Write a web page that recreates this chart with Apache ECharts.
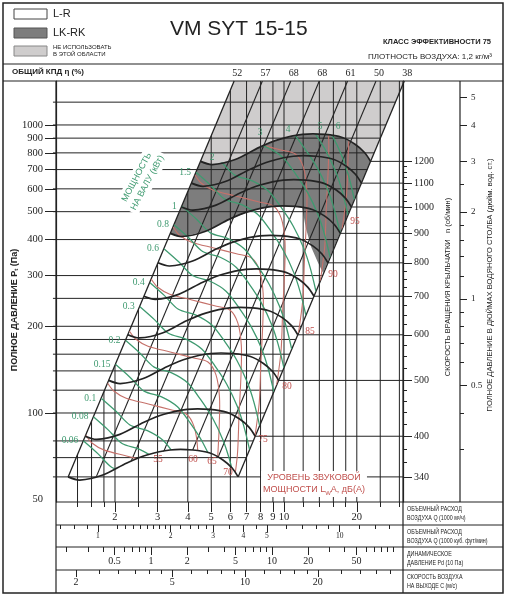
<!DOCTYPE html>
<html>
<head>
<meta charset="utf-8">
<script src="https://cdn.jsdelivr.net/npm/echarts@6/dist/echarts.min.js"></script>
<style>
html, body { margin: 0; padding: 0; background: #fff; }
#chart { width: 507px; height: 600px; }
</style>
</head>
<body>
<div id="chart"></div>
<script>
// Q in 1000 m3/h, P in Pa

// fan curve read at 340 rpm, other speeds follow the fan laws
var fanBaseRpm = 340;
var fanBaseQ = [1.28, 1.43, 1.78, 2.24, 2.71, 3.38, 4.2, 4.94, 5.59, 6.1, 6.46];
var fanBaseP = [60, 58.5, 60.9, 67.1, 71.5, 74.4, 74.4, 72.6, 68.7, 64.4, 60];
var fanRpm = [340, 400, 500, 600, 700, 800, 900, 1000, 1100, 1200];

// shaft power curve read for 0.1 kW
var powerBaseKw = 0.1;
var powerBaseQ = [1.754, 2.014, 2.305, 2.723, 3.168, 3.585, 4.024, 4.442, 4.732, 4.994];
var powerBaseP = [112.6, 101.6, 90.9, 86.8, 80.2, 70.2, 60.4, 50.7, 43.2, 35.9];
var powerKw = [0.06, 0.08, 0.1, 0.15, 0.2, 0.3, 0.4, 0.6, 0.8, 1, 1.5, 2, 3, 4, 5, 6];
var powerTopKw = [2, 3, 4, 5, 6];
var powerTopLabelQ = [5.04, 7.96, 10.39, 14.09, 16.73];
var powerTopLabelP = [774, 938, 961, 984, 984];

// sound power curve read for 75 dB(A)
var soundBaseDb = 75;
var soundDbPerDecade = 55.4;
var soundBaseQ = [3.475, 3.70, 4.149, 5.126, 6.356, 7.345, 7.929, 8.198, 8.174, 8.02, 7.898, 7.573];
var soundBaseP = [442.4, 414, 391.8, 374, 357, 345.2, 311.3, 259.8, 205.8, 148.8, 108.5, 82.5];
var soundDb = [55, 60, 65, 70, 75, 80, 85, 90, 95];
var soundLabelQ = [3.01, 4.2, 5.04, 5.87, 8.19, 10.29, 12.81, 15.95, 19.66];
var soundLabelP = [68.7, 68.7, 68.1, 61.9, 81.2, 123.1, 191.1, 301.5, 460.5];

// system lines with the total efficiency written above them
var effLabels = [52, 57, 68, 68, 61, 50, 38];
var sysPBottom = 45, sysPTop = 1421;
var sysQBottom = [1.107, 1.449, 1.898, 2.489, 3.26, 4.273, 5.594];
var sysQTop = [6.22, 8.14, 10.67, 13.99, 18.32, 24.01, 31.44];

// LK-RK zone: between 900 and 1200 rpm, closed on the right by this edge
var darkLowRpm = 900;
var darkInnerQ = [14.5, 13.8, 12.95, 12.3, 11.9];
var darkInnerP = [306, 334, 377, 440, 515];

// grid and scales
var qGrid = [1.4, 1.6, 1.8, 2, 2.5, 3, 4, 5, 6, 7, 8, 9, 10, 12, 14, 16, 18, 20, 25, 30];
var pGrid = [60, 70, 80, 100, 120, 140, 160, 180, 200, 250, 300, 400, 500, 600, 700, 800, 900, 1000, 1200];
var pTicks = [100, 200, 300, 400, 500, 600, 700, 800, 900, 1000];
var pLabels = [50, 100, 200, 300, 400, 500, 600, 700, 800, 900, 1000];
var rpmMajor = [340, 400, 500, 600, 700, 800, 900, 1000, 1100, 1200];
var rpmMinor = [360, 380, 420, 440, 460, 480, 525, 550, 575, 625, 650, 675, 725, 750, 775, 825, 850, 875, 925, 950, 975, 1025, 1050, 1075, 1125, 1150, 1175];
var inchMajor = [0.5, 1, 2, 3, 4, 5];
var inchMinor = [0.3, 0.4, 0.6, 0.7, 0.8, 0.9, 1.2, 1.4, 1.6, 1.8, 2.5];
var qMajor = [2, 3, 4, 5, 6, 7, 8, 9, 10, 20];
var qMinor = [1.4, 1.6, 1.8, 2.5, 12, 14, 16, 18, 25, 30];
var cfmMajor = [1, 2, 3, 4, 5, 10];
var cfmMinor = [0.7, 0.8, 0.9, 1.2, 1.3, 1.4, 1.5, 1.6, 1.7, 1.8, 1.9, 2.2, 2.4, 2.6, 2.8, 3.5, 4.5, 6, 7, 8, 9, 12, 14, 16];
var pdMajor = [0.5, 1, 2, 5, 10, 20, 50];
var pdMinor = [0.2, 0.3, 0.4, 0.6, 0.7, 0.8, 0.9, 3, 4, 6, 7, 8, 9, 30, 40, 60, 70, 80, 90, 100];
var velMajor = [2, 5, 10, 20];
var velMinor = [2.5, 3, 3.5, 4, 4.5, 6, 7, 8, 9, 12, 14, 16, 18, 25, 30, 35, 40];

var xMin = 1.1405, xMax = 31.05, yMin = 49.09, yMax = 1421;
var PA_PER_INCH = 249.09;
var CFM_FACTOR = 1.699;
var VELOCITY_PER_Q = 1.449;
var AIR_DENSITY = 1.2;

var SERIF = '"Liberation Serif"';
var SANS = '"Liberation Sans"';
var INK = '#232323';
var GREEN = '#3f9a70';
var RED = '#c5716a';
var RED_TEXT = '#c0504d';

function affine(qs, ps, s) {
    return qs.map(function (q, i) { return [q * s, ps[i] * s * s]; });
}
function pairs(qs, ps) {
    return qs.map(function (q, i) { return [q, ps[i]]; });
}

var fanCurves = fanRpm.map(function (n) { return affine(fanBaseQ, fanBaseP, n / fanBaseRpm); });
var powerCurves = powerKw.map(function (w) { return affine(powerBaseQ, powerBaseP, Math.cbrt(w / powerBaseKw)); });
var soundCurves = soundDb.map(function (db) {
    return affine(soundBaseQ, soundBaseP, Math.pow(10, (db - soundBaseDb) / soundDbPerDecade));
});

var last = sysQTop.length - 1;
var fanLow = fanCurves[0];
var fanHigh = fanCurves[fanCurves.length - 1];
var fanDark = fanCurves[fanRpm.indexOf(darkLowRpm)];
var innerEnd = darkInnerQ[darkInnerQ.length - 1];

var regionFull = fanLow.concat([[sysQTop[last], sysPTop], [sysQTop[0], sysPTop]]);
var regionUse = fanLow.concat(fanHigh.slice().reverse());
var rightOfLeftEdge = [[sysQBottom[0], sysPBottom], [sysQTop[0], sysPTop], [sysQTop[0], 5000], [200, 5000], [200, 10], [sysQBottom[0], 10]];
var leftOfRightEdge = [[0.2, 10], [0.2, 5000], [sysQTop[last], 5000], [sysQTop[last], sysPTop], [sysQBottom[last], sysPBottom], [sysQBottom[last], 10]];
var lightArea = fanHigh.concat([[sysQTop[last], sysPTop], [sysQTop[0], sysPTop]]);
var darkArea = fanHigh.concat(pairs(darkInnerQ, darkInnerP))
    .concat(fanDark.filter(function (p) { return p[0] < innerEnd; }).reverse());

var hLines = pGrid.map(function (p) { return [[1.108, p], [xMax * 2, p]]; });
var vLines = qGrid.map(function (q) { return [[q, yMin], [q, yMax]]; });
var sysInner = [];
for (var i = 1; i < last; i++) {
    sysInner.push([[sysQBottom[i], sysPBottom], [sysQTop[i], sysPTop]]);
}
var sysEdges = [
    [fanLow[0], [sysQTop[0], sysPTop]],
    [fanLow[fanLow.length - 1], [sysQTop[last], sysPTop]]
];
var rpmLines = fanCurves.map(function (c) {
    var e = c[c.length - 1];
    return [e, [xMax, e[1]]];
});

function lineSeries(lines, color, width, smooth, clipPts, z) {
    return {
        type: 'custom', coordinateSystem: 'cartesian2d', clip: false, silent: true, z: z,
        data: lines.map(function (l) { return l[0]; }),
        renderItem: function (params, api) {
            var el = {
                type: 'polyline',
                shape: { points: lines[params.dataIndex].map(function (p) { return api.coord(p); }), smooth: smooth },
                style: { stroke: color, lineWidth: width, fill: null }
            };
            if (clipPts) {
                el.clipPath = { type: 'polygon', shape: { points: clipPts.map(function (p) { return api.coord(p); }) } };
            }
            return el;
        }
    };
}
function areaSeries(poly, color, z) {
    return {
        type: 'custom', coordinateSystem: 'cartesian2d', clip: false, silent: true, z: z,
        data: [poly[0]],
        renderItem: function (params, api) {
            return {
                type: 'polygon',
                shape: { points: poly.map(function (p) { return api.coord(p); }) },
                style: { fill: color, stroke: null }
            };
        }
    };
}
function textSeries(items, color, font, z) {
    return {
        type: 'custom', coordinateSystem: 'cartesian2d', clip: false, silent: true, z: z,
        data: items.map(function (it) { return it.p; }),
        renderItem: function (params, api) {
            var it = items[params.dataIndex];
            var c = api.coord(it.p);
            return {
                type: 'text', x: c[0] + (it.dx || 0), y: c[1] + (it.dy || 0),
                style: { text: it.text, fill: color, font: font, align: it.align || 'center', verticalAlign: 'middle' }
            };
        }
    };
}

var powerLabels = [];
powerKw.forEach(function (w, i) {
    if (powerTopKw.indexOf(w) < 0) {
        powerLabels.push({ p: powerCurves[i][0], text: String(w), dx: -5, align: 'right' });
    }
});
powerTopKw.forEach(function (w, i) {
    powerLabels.push({ p: [powerTopLabelQ[i], powerTopLabelP[i]], text: String(w) });
});
var soundLabels = soundDb.map(function (db, i) {
    return { p: [soundLabelQ[i], soundLabelP[i]], text: String(db) };
});
var effItems = effLabels.map(function (e, i) {
    return { p: [sysQTop[i], sysPTop], text: String(e), dx: 3, dy: -8 };
});

function fmt(v) { return String(v); }
function pdOf(q) { return AIR_DENSITY / 2 * Math.pow(q * VELOCITY_PER_Q, 2) / 10; }

// bottom scales: every row gets two grids on the same rectangle, one for long ticks with labels, one for short ticks
var rows = [
    { top: 502, height: 23, min: xMin, max: xMax, major: qMajor, minor: qMinor, majLen: 10, minLen: 5, margin: 10, font: 10.5 },
    { top: 525, height: 22, min: xMin / CFM_FACTOR, max: xMax / CFM_FACTOR, major: cfmMajor, minor: cfmMinor, majLen: 7, minLen: 4, margin: 7, font: 7.5 },
    { top: 547, height: 23, min: pdOf(xMin), max: pdOf(xMax), major: pdMajor, minor: pdMinor, majLen: 8, minLen: 5, margin: 9, font: 10 },
    { top: 570, height: 23, min: xMin * VELOCITY_PER_Q, max: xMax * VELOCITY_PER_Q, major: velMajor, minor: velMinor, majLen: 7, minLen: 4, margin: 7, font: 10 }
];
var grids = [{ left: 56, right: 104, top: 81, bottom: 98 }];
var xAxes = [{ type: 'log', gridIndex: 0, min: xMin, max: xMax, show: false }];
var rowYAxes = [];
rows.forEach(function (r) {
    [true, false].forEach(function (isMajor) {
        var gi = grids.length;
        grids.push({ left: 56, right: 104, top: r.top, height: r.height });
        rowYAxes.push({ type: 'value', gridIndex: gi, min: 0, max: 1, show: false });
        xAxes.push({
            type: 'log', gridIndex: gi, position: 'top', min: r.min, max: r.max,
            axisLine: { show: false, onZero: false }, splitLine: { show: false }, minorTick: { show: false },
            axisTick: { show: true, inside: true, length: isMajor ? r.majLen : r.minLen,
                customValues: isMajor ? r.major : r.minor, lineStyle: { color: INK } },
            axisLabel: isMajor ? { show: true, inside: true, margin: r.margin, customValues: r.major, formatter: fmt,
                fontFamily: 'Liberation Serif', fontSize: r.font, color: INK } : { show: false }
        });
    });
});

var rpmMin = fanBaseRpm * Math.sqrt(yMin / fanBaseP[fanBaseP.length - 1]);
var rpmMax = fanBaseRpm * Math.sqrt(yMax / fanBaseP[fanBaseP.length - 1]);

function sideAxis(min, max, offset, ticks, len, labels, margin, fontSize, showLine) {
    return {
        type: 'log', gridIndex: 0, position: 'right', offset: offset, min: min, max: max,
        axisLine: { show: showLine, onZero: false, lineStyle: { color: INK, width: 1.2 } },
        splitLine: { show: false }, minorTick: { show: false },
        axisTick: { show: true, length: len, customValues: ticks, lineStyle: { color: INK } },
        axisLabel: labels ? { show: true, margin: margin, customValues: labels, formatter: fmt,
            fontFamily: 'Liberation Serif', fontSize: fontSize, color: INK } : { show: false }
    };
}

// fixed furniture of the sheet
var g = [];
function gLine(x1, y1, x2, y2, w) {
    g.push({ type: 'line', z: 50, silent: true, shape: { x1: x1, y1: y1, x2: x2, y2: y2 }, style: { stroke: INK, lineWidth: w || 1 } });
}
function gText(x, y, text, font, opt) {
    opt = opt || {};
    g.push({
        type: 'text', z: opt.z || 60, silent: true, x: x, y: y, rotation: opt.rot || 0, scaleX: opt.sx || 1,
        style: Object.assign({ text: text, font: font, fill: opt.fill || INK, align: opt.align || 'left', verticalAlign: 'middle' }, opt.style || {})
    });
}
g.push({ type: 'rect', z: 1000, silent: true, shape: { x: 0, y: 594, width: 507, height: 6 }, style: { fill: '#fff' } });
g.push({ type: 'rect', z: 50, silent: true, shape: { x: 3, y: 3, width: 500, height: 590 }, style: { fill: null, stroke: INK, lineWidth: 1.5 } });
gLine(3, 64, 503, 64, 1.2);
gLine(3, 81, 503, 81, 1.2);
gLine(56, 81, 56, 593, 1.2);
gLine(403, 81, 403, 593, 1.2);
gLine(460, 81, 460, 502, 1.2);
gLine(56, 502, 503, 502, 1.2);
gLine(56, 525, 503, 525, 1);
gLine(56, 547, 503, 547, 1);
gLine(56, 570, 503, 570, 1);

g.push({ type: 'rect', z: 50, silent: true, shape: { x: 14, y: 9, width: 33, height: 10 }, style: { fill: '#fff', stroke: '#444', lineWidth: 1 } });
g.push({ type: 'rect', z: 50, silent: true, shape: { x: 14, y: 28, width: 33, height: 10 }, style: { fill: '#7d7d7d', stroke: '#555', lineWidth: 1 } });
g.push({ type: 'rect', z: 50, silent: true, shape: { x: 14, y: 46, width: 33, height: 10 }, style: { fill: '#cfcdcd', stroke: '#888', lineWidth: 1 } });
gText(53, 14, 'L-R', '11px ' + SANS);
gText(53, 33, 'LK-RK', '11px ' + SANS);
gText(53, 47, 'НЕ ИСПОЛЬЗОВАТЬ', '6px ' + SANS);
gText(53, 54, 'В ЭТОЙ ОБЛАСТИ', '6px ' + SANS);
gText(170, 29, 'VM SYT 15-15', '21px ' + SANS);
gText(491, 42, 'КЛАСС ЭФФЕКТИВНОСТИ 75', 'bold 7.5px ' + SANS, { align: 'right' });
gText(492, 57, 'ПЛОТНОСТЬ ВОЗДУХА: 1,2 кг/м³', '8px ' + SANS, { align: 'right' });
gText(12, 72, 'ОБЩИЙ КПД η (%)', 'bold 8px ' + SANS);

gText(15, 310, 'ПОЛНОЕ ДАВЛЕНИЕ P{s|t} (Па)', 'bold 9px ' + SANS,
    { align: 'center', rot: Math.PI / 2, style: { rich: { s: { fontSize: 6, fontWeight: 'bold', verticalAlign: 'bottom' } } } });
gText(448, 287, 'СКОРОСТЬ ВРАЩЕНИЯ КРЫЛЬЧАТКИ   n (об/мин)', '7.5px ' + SANS, { align: 'center', rot: Math.PI / 2 });
gText(490, 285, 'ПОЛНОЕ ДАВЛЕНИЕ В ДЮЙМАХ ВОДЯНОГО СТОЛБА (дюйм. вод. ст.)', '8px ' + SANS, { align: 'center', rot: Math.PI / 2, sx: 0.95 });

var rowTitles = [
    ['ОБЪЕМНЫЙ РАСХОД', 'ВОЗДУХА Q (1000 м³/ч)', 509],
    ['ОБЪЕМНЫЙ РАСХОД', 'ВОЗДУХА Q (1000 куб. фут/мин)', 532],
    ['ДИНАМИЧЕСКОЕ', 'ДАВЛЕНИЕ Pd (10 Па)', 554],
    ['СКОРОСТЬ ВОЗДУХА', 'НА ВЫХОДЕ С (м/с)', 577]
];
rowTitles.forEach(function (r) {
    gText(407, r[2], r[0], '6.5px ' + SANS, { sx: 0.82 });
    gText(407, r[2] + 9, r[1], '6.5px ' + SANS, { sx: 0.82 });
});

gText(142, 180, 'МОЩНОСТЬ\nНА ВАЛУ (кВт)', '9px ' + SANS,
    { align: 'center', rot: 1.08, fill: GREEN, z: 70, style: { backgroundColor: '#fff', padding: [1, 3], lineHeight: 12 } });
gText(314, 484, 'УРОВЕНЬ ЗВУКОВОЙ\nМОЩНОСТИ L{s|W}A, дБ(А)', '9px ' + SANS,
    { align: 'center', fill: RED_TEXT, z: 70, style: { backgroundColor: '#fff', padding: [1, 2], lineHeight: 12,
        rich: { s: { fontSize: 6, fill: RED_TEXT, verticalAlign: 'bottom' } } } });

var chart = echarts.init(document.getElementById('chart'));
chart.setOption({
    animation: false,
    backgroundColor: '#fff',
    grid: grids,
    xAxis: xAxes,
    yAxis: [
        {
            type: 'log', gridIndex: 0, position: 'left', min: yMin, max: yMax,
            axisLine: { show: true, onZero: false, lineStyle: { color: INK, width: 1.2 } },
            splitLine: { show: false }, minorTick: { show: false },
            axisTick: { show: true, length: 11, customValues: pTicks, lineStyle: { color: INK } },
            axisLabel: { customValues: pLabels, margin: 13, formatter: fmt, fontFamily: 'Liberation Serif', fontSize: 10.5, color: INK }
        },
        sideAxis(rpmMin, rpmMax, 0, rpmMajor, 9, rpmMajor, 11, 10, true),
        sideAxis(rpmMin, rpmMax, 0, rpmMinor, 4, null, 0, 0, false),
        sideAxis(yMin / PA_PER_INCH, yMax / PA_PER_INCH, 57, inchMajor, 7, inchMajor, 11, 9, false),
        sideAxis(yMin / PA_PER_INCH, yMax / PA_PER_INCH, 57, inchMinor, 4, null, 0, 0, false)
    ].concat(rowYAxes),
    graphic: { elements: g },
    series: [
        areaSeries(lightArea, '#cfcdcd', 1),
        areaSeries(darkArea, '#7d7d7d', 1),
        lineSeries(hLines, INK, 1, 0, leftOfRightEdge, 2),
        lineSeries(vLines, INK, 1, 0, rightOfLeftEdge, 2),
        lineSeries(rpmLines, INK, 1, 0, null, 2),
        lineSeries(sysInner, INK, 1.1, 0, regionFull, 3),
        lineSeries(sysEdges, INK, 1.3, 0, null, 3),
        lineSeries(soundCurves, RED, 1.1, 0.3, regionUse, 4),
        lineSeries(powerCurves, GREEN, 1.3, 0.3, regionUse, 5),
        lineSeries(fanCurves, INK, 1.7, 0.3, null, 6),
        textSeries(powerLabels, GREEN, '9.5px ' + SERIF, 7),
        textSeries(soundLabels, RED_TEXT, '9.5px ' + SERIF, 7),
        textSeries(effItems, INK, '10px ' + SERIF, 7)
    ]
});
</script>
</body>
</html>
